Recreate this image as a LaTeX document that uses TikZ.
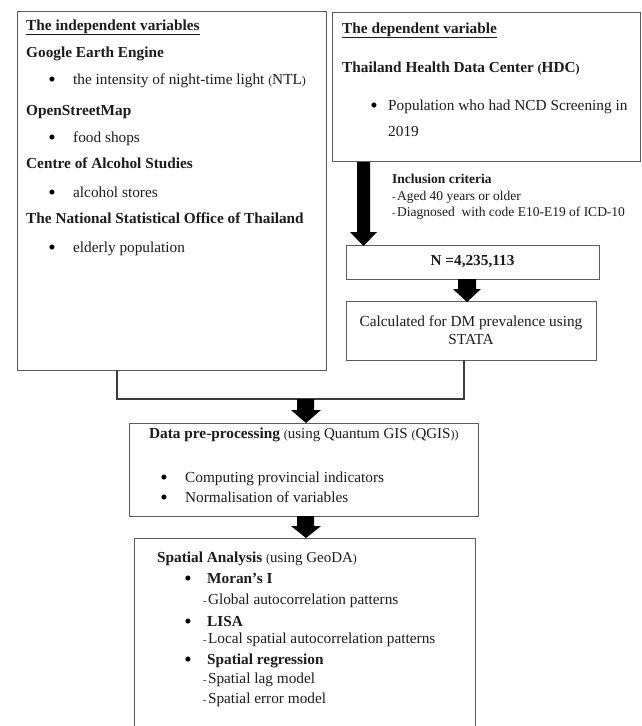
\documentclass[tikz,border=0pt]{standalone}
\usepackage{fontspec}
\setmainfont{Liberation Serif}
\definecolor{boxgray}{HTML}{5C5C5C}
\definecolor{linegray}{HTML}{3C3C3C}
\definecolor{ink}{HTML}{1C1C1C}
\newcommand{\mainsz}{\fontsize{15.3}{18}\selectfont}
\newcommand{\smsz}{\fontsize{13.5}{16}\selectfont}
\newcommand{\parsz}{\fontsize{15}{17}\selectfont}
\newcommand{\smallpar}[1]{{\fontsize{12}{12}\selectfont #1}}
\newcommand{\dsh}{{\fontsize{10}{10}\selectfont -}\hspace{1.5pt}}
\newcommand{\bigbul}{\raisebox{-2.6pt}{•}}
\begin{document}
\begin{tikzpicture}[x=1pt,y=-1pt,
  box/.style={draw=boxgray, line width=0.9pt, inner sep=0pt, fill=none},
  txt/.style={anchor=base west, inner sep=0pt, text=ink, font=\mainsz},
  btxt/.style={txt, font=\mainsz\bfseries},
  stxt/.style={anchor=base west, inner sep=0pt, text=ink, font=\smsz},
  bul/.style={anchor=base, inner sep=0pt, text=black, font=\fontsize{21}{21}\selectfont},
  conn/.style={draw=linegray, line width=1.1pt}]
\clip (0,0) rectangle (641,726);
\fill[white] (0,0) rectangle (641,726);

% boxes
\node[box, minimum width=309pt, minimum height=359pt] (lbox) at (171.5,190.5) {};
\node[box, minimum width=308pt, minimum height=149pt] (rbox) at (486,86.5) {};
\node[box, minimum width=253pt, minimum height=34pt, font=\mainsz\bfseries, text=ink] (nbox) at (472.5,262) {N =4,235,113};
\node[box, minimum width=250pt, minimum height=59pt, align=center, font=\mainsz, text=ink] (cbox) at (471,330.5) {Calculated for DM prevalence using\\STATA};
\node[box, minimum width=349pt, minimum height=93pt] (dbox) at (303.5,469.5) {};
\node[box, minimum width=341pt, minimum height=210pt] (sbox) at (304.5,643) {};

% left box texts
\node[btxt] (l0) at (26,30) {\underline{The independent variables}};
\node[btxt] (l1) at (26,57) {Google Earth Engine};
\node[bul] (lb1) at (52,84) {\bigbul};
\node[txt] (l2) at (73,84) {the intensity of night-time light \smallpar{(}NTL\smallpar{)}};
\node[btxt] (l3) at (26,115) {OpenStreetMap};
\node[bul] (lb2) at (52,142) {\bigbul};
\node[txt] (l4) at (73,142) {food shops};
\node[btxt] (l5) at (26,168) {Centre of Alcohol Studies};
\node[bul] (lb3) at (52,197) {\bigbul};
\node[txt] (l6) at (73,197) {alcohol stores};
\node[btxt] (l7) at (26,223) {The National Statistical Office of Thailand};
\node[bul] (lb4) at (52,252) {\bigbul};
\node[txt] (l8) at (73,252) {elderly population};

% right box texts
\node[btxt] (r0) at (342,33) {\underline{The dependent variable}};
\node[btxt] (r1) at (342,72) {Thailand Health Data Center \smallpar{(}HDC\smallpar{)}};
\node[bul] (rb1) at (374,110) {\bigbul};
\node[txt] (r2) at (388,110) {Population who had NCD Screening in};
\node[txt] (r3) at (388,136) {2019};

% inclusion criteria
\node[stxt, font=\smsz\bfseries] (c0) at (392,183) {Inclusion criteria};
\node[stxt] (c1) at (392,200) {\dsh Aged 40 years or older};
\node[stxt] (c2) at (392,216) {\dsh Diagnosed\ \ with code E10-E19 of ICD-10};

% data pre-processing texts
\node[txt] (p0) at (149,438) {\textbf{Data pre-processing} {\parsz \smallpar{(}using Quantum GIS \smallpar{(}QGIS\smallpar{))}}};
\node[bul] (pb1) at (164,482) {\bigbul};
\node[txt] (p1) at (185,482) {Computing provincial indicators};
\node[bul] (pb2) at (164,502) {\bigbul};
\node[txt] (p2) at (185,502) {Normalisation of variables};

% spatial analysis texts
\node[txt] (s0) at (157,562) {\textbf{Spatial Analysis} {\parsz \smallpar{(}using GeoDA\smallpar{)}}};
\node[bul] (sb1) at (188,583) {\bigbul};
\node[btxt] (s1) at (207,583) {Moran's I};
\node[txt] (s2) at (203,604) {\dsh Global autocorrelation patterns};
\node[bul] (sb2) at (188,626) {\bigbul};
\node[btxt] (s3) at (207,626) {LISA};
\node[txt] (s4) at (203,643) {\dsh Local spatial autocorrelation patterns};
\node[bul] (sb3) at (188,664) {\bigbul};
\node[btxt] (s5) at (207,664) {Spatial regression};
\node[txt] (s6) at (203,683) {\dsh Spatial lag model};
\node[txt] (s7) at (203,703) {\dsh Spatial error model};

% connector from the two upper branches
\coordinate (jr) at (464,399);
\coordinate (jl) at (117,399);
\draw[conn] (cbox.south -| jr) -- (jr) -- (jl) -- (lbox.south -| jl);

% block arrows
\fill[black] (357,162) -- (370,162) -- (370,232) -- (377,232) -- (363.5,246) -- (350,232) -- (357,232) -- cycle;
\fill[black] (458,279) -- (476,279) -- (476,289) -- (481,289) -- (467,302) -- (453,289) -- (458,289) -- cycle;
\fill[black] (297,399) -- (314,399) -- (314,410) -- (321,410) -- (306,423) -- (291,410) -- (297,410) -- cycle;
\fill[black] (297,516) -- (314,516) -- (314,526) -- (321,526) -- (306,538) -- (291,526) -- (297,526) -- cycle;
\end{tikzpicture}
\end{document}
